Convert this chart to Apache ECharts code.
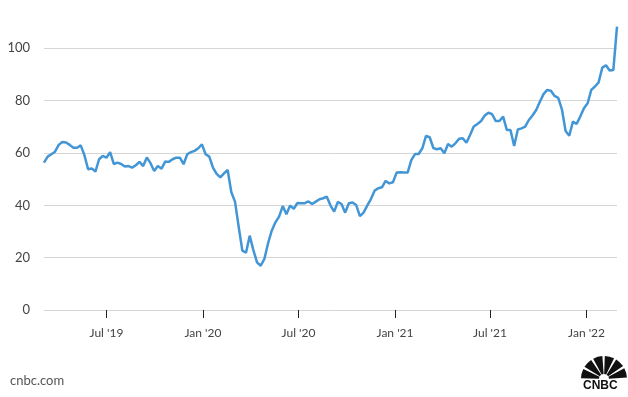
<!DOCTYPE html>
<html>
<head>
<meta charset="utf-8">
<script src="https://cdn.jsdelivr.net/npm/echarts@6/dist/echarts.min.js"></script>
<style>
  html, body { margin: 0; padding: 0; background: #fff; }
  #chart { width: 628px; height: 397px; }
</style>
</head>
<body>
<div id="chart"></div>
<script>
// weekly readings, first week starting 2019-03-04
var startDate = '2019-03-04';
var weeklyValues = [
    56.3, 58.6, 59.5, 60.5, 63.1, 64.2, 64.0, 63.1, 62.0, 62.0, 62.9, 59.2, 53.8, 54.1, 52.9, 57.6, 58.9, 58.2, 60.3, 55.8,
    56.3, 55.8, 54.8, 55.0, 54.4, 55.3, 56.6, 55.0, 58.3, 56.1, 53.1, 55.0, 54.0, 56.7, 56.6, 57.6, 58.2, 58.2, 55.7, 59.5,
    60.3, 60.8, 61.8,
    63.3, 59.5, 58.6, 54.4, 52.0, 50.7, 52.2, 53.5, 45.0, 41.4, 31.8, 22.7, 21.9, 28.4, 22.9, 18.2, 16.9, 19.5, 25.5, 30.3,
    33.5, 35.7, 39.7, 36.6, 39.9, 38.7, 40.9, 40.8, 40.8, 41.5, 40.5, 41.4, 42.3, 42.7, 43.3, 39.9, 37.6, 41.3, 40.5, 37.2,
    40.8, 41.1, 40.1, 35.9, 37.2, 39.9, 42.4, 45.6, 46.5, 46.9, 49.3, 48.4, 48.8, 52.5, 52.6, 52.5, 52.5,
    57.3, 59.6, 59.6, 61.8, 66.5, 66.0, 61.9, 61.4, 61.8, 59.9, 63.4, 62.4, 63.7, 65.4, 65.6, 63.9, 66.9, 70.1, 71.1, 72.2,
    74.3, 75.4, 74.8, 72.2, 72.2, 73.9, 68.8, 68.8, 62.7, 69.0, 69.4, 70.1, 72.6, 74.3, 76.4, 79.6, 82.5, 84.1, 83.8, 81.8,
    81.1, 76.7, 68.4, 66.6, 72.0, 71.1, 73.9, 77.1, 79.0, 84.1, 85.4, 87.0, 92.6, 93.5, 91.5, 91.7, 108.3
];
var tickDates = ['2019-07-01', '2020-01-01', '2020-07-01', '2021-01-01', '2021-07-01', '2022-01-01'];
var tickLabels = ["Jul '19", "Jan '20", "Jul '20", "Jan '21", "Jul '21", "Jan '22"];

var DAY = 24 * 3600 * 1000;
var t0 = Date.parse(startDate);
var seriesData = [];
for (var i = 0; i < weeklyValues.length; i++) {
    seriesData.push([t0 + i * 7 * DAY, weeklyValues[i]]);
}
var tickTimes = tickDates.map(function (d) { return Date.parse(d); });

// peacock logo feathers
var feathers = [];
for (var k = 0; k < 6; k++) {
    var a0 = Math.PI + (2 + k * 30) * Math.PI / 180;
    feathers.push({
        type: 'sector',
        shape: { cx: 20, cy: 25, r0: 5, r: 23, startAngle: a0, endAngle: a0 + 24 * Math.PI / 180, clockwise: true },
        style: { fill: '#111' }
    });
}
feathers.push({
    type: 'text', x: -1, y: 26,
    style: { text: 'CNBC', fontSize: 12, fontWeight: 'bold', fill: '#111', fontFamily: 'Liberation Sans' }
});

var chart = echarts.init(document.getElementById('chart'));
var option = {
    animation: false,
    textStyle: { fontFamily: 'Lato' },
    grid: { left: 44, right: 11, top: 48.3, bottom: 87 },
    xAxis: {
        type: 'value',
        min: t0,
        max: seriesData[seriesData.length - 1][0],
        axisLine: { show: false },
        splitLine: { show: false },
        axisTick: {
            show: true,
            customValues: tickTimes,
            length: 8,
            lineStyle: { color: '#222', width: 1 }
        },
        axisLabel: {
            customValues: tickTimes,
            margin: 17,
            fontSize: 12,
            color: '#444',
            formatter: function (val) {
                var k = tickTimes.indexOf(val);
                return k >= 0 ? tickLabels[k] : '';
            }
        }
    },
    yAxis: {
        type: 'value',
        min: 0,
        max: 100,
        interval: 20,
        axisLine: { show: false },
        axisTick: { show: false },
        splitLine: { lineStyle: { color: '#d6d6d6', width: 1 } },
        axisLabel: { fontSize: 13, color: '#444', margin: 14 }
    },
    series: [{
        type: 'line',
        data: seriesData,
        showSymbol: false,
        clip: false,
        lineStyle: { color: '#4396d6', width: 2.5 },
        itemStyle: { color: '#4396d6' }
    }],
    graphic: [
        {
            type: 'text', left: 10, top: 374,
            style: { text: 'cnbc.com', fontSize: 13, fill: '#555', fontFamily: 'Lato' }
        },
        {
            type: 'group', left: 581, top: 356,
            children: feathers
        }
    ]
};
chart.setOption(option);
</script>
</body>
</html>
